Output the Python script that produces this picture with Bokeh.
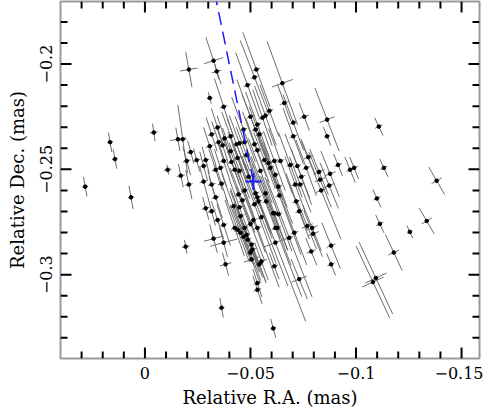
import numpy as np
from bokeh.plotting import figure
from bokeh.models import Range1d, SingleIntervalTicker, CustomJSTickFormatter
from bokeh.embed import file_html
from bokeh.resources import INLINE

# --- data (mas) ---
ra = [
    0.0283, 0.0165, 0.0142, 0.0066, -0.0042, -0.0108, -0.0193, -0.0363, -0.0382, -0.0307,
    -0.0340, -0.0208, -0.0325, -0.0156, -0.0179, -0.0373, -0.0608, -0.1099, -0.1113, -0.1255,
    -0.1335, -0.1179, -0.1094, -0.1080, -0.1382, -0.1108, -0.1132, -0.0217, -0.0198, -0.0245,
    -0.0288, -0.0170, -0.0208, -0.0278, -0.0278, -0.0335, -0.0358, -0.0363, -0.0316, -0.0335,
    -0.0288, -0.0316, -0.0344, -0.0373, -0.0325, -0.0373, -0.0316, -0.0307, -0.0344, -0.0349,
    -0.0368, -0.0377, -0.0406, -0.0373, -0.0410, -0.0434, -0.0448, -0.0472, -0.0467, -0.0500,
    -0.0486, -0.0519, -0.0528, -0.0533, -0.0524, -0.0542, -0.0557, -0.0571, -0.0590, -0.0519,
    -0.0533, -0.0566, -0.0585, -0.0613, -0.0481, -0.0406, -0.0439, -0.0448, -0.0425, -0.0491,
    -0.0472, -0.0443, -0.0462, -0.0448, -0.0420, -0.0453, -0.0425, -0.0439, -0.0453, -0.0472,
    -0.0481, -0.0467, -0.0500, -0.0514, -0.0533, -0.0486, -0.0505, -0.0509, -0.0500, -0.0505,
    -0.0552, -0.0542, -0.0613, -0.0533, -0.0533, -0.0524, -0.0533, -0.0519, -0.0538, -0.0571,
    -0.0575, -0.0552, -0.0613, -0.0547, -0.0594, -0.0618, -0.0642, -0.0632, -0.0637, -0.0689,
    -0.0722, -0.0764, -0.0741, -0.0712, -0.0736, -0.0717, -0.0731, -0.0825, -0.0877, -0.0830,
    -0.0835, -0.0873, -0.0915, -0.0972, -0.0991, -0.0608, -0.0632, -0.0618, -0.0627, -0.0684,
    -0.0708, -0.0769, -0.0792, -0.0797, -0.0618, -0.0882, -0.0788, -0.0882, -0.0731, -0.0651,
    -0.0660, -0.0755, -0.0863, -0.0863, -0.0703, -0.0703, -0.0774,
]
dec = [
    -0.2582, -0.2371, -0.2451, -0.2633, -0.2325, -0.2502, -0.2867, -0.3157, -0.2951, -0.2161,
    -0.2035, -0.2026, -0.1984, -0.2357, -0.2357, -0.2203, -0.3255, -0.2638, -0.2759, -0.2797,
    -0.2745, -0.2895, -0.3016, -0.3035, -0.2554, -0.2297, -0.2493, -0.2418, -0.2460, -0.2456,
    -0.2456, -0.2530, -0.2572, -0.2484, -0.2558, -0.2502, -0.2493, -0.2568, -0.2572, -0.2633,
    -0.2685, -0.2699, -0.2741, -0.2764, -0.2829, -0.2848, -0.2334, -0.2390, -0.2301, -0.2371,
    -0.2386, -0.2353, -0.2343, -0.2460, -0.2465, -0.2381, -0.2376, -0.2371, -0.2311, -0.2250,
    -0.2100, -0.2063, -0.2026, -0.2287, -0.2311, -0.2334, -0.2255, -0.2245, -0.2222, -0.2381,
    -0.2409, -0.2456, -0.2470, -0.2460, -0.2432, -0.2414, -0.2446, -0.2507, -0.2502, -0.2535,
    -0.2600, -0.2619, -0.2647, -0.2680, -0.2675, -0.2722, -0.2778, -0.2787, -0.2801, -0.2778,
    -0.2811, -0.2820, -0.2759, -0.2741, -0.2778, -0.2834, -0.2857, -0.2881, -0.2895, -0.2928,
    -0.2937, -0.2951, -0.2960, -0.3040, -0.3072, -0.2614, -0.2633, -0.2666, -0.2652, -0.2614,
    -0.2652, -0.2727, -0.2708, -0.2507, -0.2493, -0.2526, -0.2460, -0.2582, -0.2624, -0.2479,
    -0.2484, -0.2493, -0.2535, -0.2572, -0.2572, -0.2652, -0.2699, -0.2512, -0.2521, -0.2549,
    -0.2600, -0.2577, -0.2479, -0.2502, -0.2493, -0.2708, -0.2713, -0.2778, -0.2778, -0.2825,
    -0.2801, -0.2769, -0.2778, -0.2806, -0.2848, -0.2862, -0.2890, -0.2951, -0.3021, -0.2091,
    -0.2185, -0.2250, -0.2264, -0.2343, -0.2278, -0.2343, -0.2442,
]
# error-ellipse semi-axes (micro-arcsec) and position angle (deg, east of north)
err_major_uas = [
    4.7, 4.7, 4.7, 5.6, 4.2, 2.3, 3.3, 4.7, 5.6, 2.8,
    3.8, 8.5, 11.7, 5.6, 16.4, 14.1, 4.7, 4.7, 4.7, 3.3,
    7.0, 9.4, 18.8, 18.8, 7.5, 4.7, 4.7, 5.6, 7.0, 5.6,
    6.6, 5.6, 7.0, 7.0, 7.5, 10.3, 9.4, 9.4, 7.0, 10.3,
    5.6, 7.0, 9.4, 10.3, 7.0, 7.0, 8.5, 9.4, 9.4, 10.3,
    8.5, 11.3, 12.2, 9.4, 11.7, 13.1, 14.1, 13.1, 16.4, 18.8,
    16.4, 18.8, 18.8, 16.4, 17.8, 14.1, 14.1, 15.0, 13.1, 16.4,
    16.4, 14.1, 14.1, 15.0, 14.1, 11.7, 13.1, 14.1, 11.7, 15.0,
    14.1, 16.4, 16.4, 14.1, 16.4, 14.1, 14.1, 16.4, 14.1, 18.8,
    16.4, 14.1, 18.8, 16.4, 30.0, 16.4, 18.8, 14.1, 14.1, 11.7,
    9.4, 9.4, 6.6, 7.0, 7.0, 18.8, 18.8, 30.0, 18.8, 18.8,
    18.8, 35.0, 18.8, 16.4, 16.4, 16.4, 16.4, 18.8, 30.0, 16.4,
    16.4, 14.1, 14.1, 14.1, 14.1, 14.1, 14.1, 11.7, 11.7, 14.1,
    25.0, 11.7, 5.6, 6.6, 5.6, 18.8, 18.8, 35.0, 18.8, 30.0,
    16.4, 11.7, 11.7, 11.7, 40.0, 11.7, 7.0, 5.6, 10.3, 21.1,
    9.4, 7.0, 16.0, 4.7, 14.1, 14.1, 9.4,
]
err_minor_uas = [
    1.4, 1.4, 1.4, 1.4, 1.9, 1.9, 1.9, 1.4, 2.8, 1.4,
    2.3, 4.2, 4.7, 3.8, 1.9, 1.9, 1.4, 1.9, 1.9, 1.4,
    2.8, 2.8, 5.6, 5.6, 2.8, 1.9, 1.9, 1.9, 1.9, 1.9,
    1.9, 1.9, 1.9, 1.9, 1.9, 1.9, 1.9, 1.9, 1.9, 1.9,
    1.9, 1.9, 1.9, 1.9, 4.7, 6.6, 1.9, 1.9, 1.9, 1.9,
    1.9, 1.9, 1.9, 1.9, 1.9, 1.9, 1.9, 1.9, 1.9, 1.9,
    1.9, 1.9, 1.9, 1.9, 1.9, 1.9, 1.9, 1.9, 1.9, 1.9,
    1.9, 1.9, 1.9, 1.9, 1.9, 1.9, 1.9, 1.9, 1.9, 1.9,
    1.9, 1.9, 1.9, 1.9, 1.9, 1.9, 1.9, 1.9, 1.9, 1.9,
    1.9, 1.9, 1.9, 1.9, 1.9, 1.9, 1.9, 1.9, 1.9, 3.8,
    2.8, 1.9, 1.9, 1.9, 1.9, 1.9, 1.9, 1.9, 1.9, 1.9,
    1.9, 1.9, 1.9, 1.9, 1.9, 1.9, 1.9, 1.9, 1.9, 1.9,
    1.9, 1.9, 1.9, 1.9, 1.9, 1.9, 1.9, 2.8, 2.8, 2.8,
    2.8, 2.8, 1.9, 1.9, 1.9, 1.9, 1.9, 1.9, 1.9, 1.9,
    1.9, 2.8, 2.8, 2.8, 5.6, 2.3, 2.3, 1.9, 3.8, 5.2,
    2.3, 2.3, 3.8, 1.4, 1.9, 1.9, 2.3,
]
pa_deg = [
    10, 10, 10, 10, 8, 10, 10, 10, 15, 15,
    15, 10, 18, 10, 8, 18, 15, 25, 25, 25,
    30, 25, 25, 25, 30, 25, 25, 15, 15, 15,
    15, 12, 12, 15, 15, 18, 18, 18, 15, 18,
    15, 15, 18, 18, 15, 15, 18, 18, 18, 18,
    18, 18, 20, 18, 20, 20, 20, 20, 20, 20,
    20, 21, 20, 20, 21, 20, 19, 20, 20, 20,
    20, 21, 20, 20, 20, 19, 20, 20, 19, 20,
    20, 20, 21, 20, 20, 20, 19, 20, 20, 21,
    20, 20, 21, 20, 20, 20, 21, 20, 20, 20,
    20, 20, 20, 18, 18, 20, 21, 20, 20, 21,
    20, 21, 20, 20, 21, 20, 20, 21, 20, 20,
    21, 20, 20, 20, 21, 20, 20, 22, 22, 22,
    22, 22, 22, 22, 22, 21, 20, 21, 20, 21,
    21, 22, 22, 22, 21, 22, 22, 22, 22, 20,
    20, 20, 21, 22, 20, 20, 22,
]

# reference position (blue) and its predicted track
ref_ra, ref_dec = -0.0514, -0.2558
ref_err_ra, ref_err_dec = 0.0038, 0.0040
track_ra = [-0.0514, -0.0328]
track_dec = [-0.2558, -0.1650]

# axis ranges and ticks
X0, X1 = 0.04, -0.1585
Y0, Y1 = -0.3398, -0.1703
x_major_ticks = [0.0, -0.05, -0.10, -0.15]
y_major_ticks = [-0.20, -0.25, -0.30]
x_minor_ticks = [0.03, 0.02, 0.01, -0.01, -0.02, -0.03, -0.04, -0.06, -0.07, -0.08, -0.09,
                 -0.11, -0.12, -0.13, -0.14]
y_minor_ticks = [-0.18, -0.19, -0.21, -0.22, -0.23, -0.24, -0.26, -0.27, -0.28, -0.29,
                 -0.31, -0.32, -0.33]

# --- geometry from data ---
n = min(len(ra), len(dec), len(err_major_uas), len(err_minor_uas), len(pa_deg))
x = np.array(ra[:n]); y = np.array(dec[:n])
a = np.array(err_major_uas[:n]) / 1000.0
b = np.array(err_minor_uas[:n]) / 1000.0
t = np.radians(np.array(pa_deg[:n], dtype=float))
s, c = np.sin(t), np.cos(t)

FW, FH = 419, 357
FONT = "DejaVu Serif"
p = figure(frame_width=FW, frame_height=FH,
           x_range=Range1d(X0, X1), y_range=Range1d(Y0, Y1),
           output_backend="svg", toolbar_location=None,
           min_border_left=60, min_border_right=4, min_border_top=1, min_border_bottom=54,
           x_axis_label="Relative R.A. (mas)", y_axis_label="Relative Dec. (mas)")
p.xgrid.visible = False
p.ygrid.visible = False
p.background_fill_color = "white"
p.border_fill_color = "white"
p.outline_line_color = "#9a9a9a"
p.outline_line_width = 2

fmt = CustomJSTickFormatter(code="""
const v = Math.round(tick * 100) / 100;
if (v == 0) return "0";
return (v < 0 ? "\u2212" : "") + String(Math.abs(v));
""")

for ax in (p.xaxis[0], p.yaxis[0]):
    ax.ticker = SingleIntervalTicker(interval=0.05, num_minor_ticks=5)
    ax.formatter = fmt
    ax.major_tick_in = 0
    ax.major_tick_out = 0
    ax.minor_tick_in = 0
    ax.minor_tick_out = 0
    ax.axis_line_color = None
    ax.major_label_text_font = FONT
    ax.major_label_text_font_size = "16px"
    ax.major_label_text_color = "black"
    ax.major_label_standoff = 8
    ax.axis_label_text_font = FONT
    ax.axis_label_text_font_size = "18px"
    ax.axis_label_text_font_style = "normal"
    ax.axis_label_text_color = "black"
    ax.axis_label_standoff = 5
p.yaxis[0].major_label_orientation = "parallel"
p.yaxis[0].axis_label_standoff = 10

# inward ticks on all four sides (pixel lengths converted to data units)
ux = (X0 - X1) / FW
uy = (Y1 - Y0) / FH
tx0, ty0, tx1, ty1 = [], [], [], []
for ticks, L in ((x_major_ticks, 11), (x_minor_ticks, 7)):
    for v in ticks:
        tx0 += [v, v]; tx1 += [v, v]
        ty0 += [Y0, Y1]; ty1 += [Y0 + L * uy, Y1 - L * uy]
for ticks, L in ((y_major_ticks, 11), (y_minor_ticks, 7)):
    for v in ticks:
        ty0 += [v, v]; ty1 += [v, v]
        tx0 += [X0, X1]; tx1 += [X0 - L * ux, X1 + L * ux]
p.segment(x0=tx0, y0=ty0, x1=tx1, y1=ty1, line_color="black", line_width=2)

# error bars and points
err_col = "#6e6e6e"
p.segment(x0=x - a * s, y0=y - a * c, x1=x + a * s, y1=y + a * c, line_color=err_col, line_width=1)
p.segment(x0=x - b * c, y0=y + b * s, x1=x + b * c, y1=y - b * s, line_color=err_col, line_width=1)
p.scatter(x, y, size=3.6, color="black")

# blue track and reference cross
p.line(track_ra, track_dec, line_color="#1a1aff", line_width=1.5, line_dash="13 7")
p.segment(x0=[ref_ra - ref_err_ra, ref_ra], y0=[ref_dec, ref_dec - ref_err_dec],
          x1=[ref_ra + ref_err_ra, ref_ra], y1=[ref_dec, ref_dec + ref_err_dec],
          line_color="#1a1aff", line_width=2)

open("out.html", "w").write(file_html(p, INLINE))
